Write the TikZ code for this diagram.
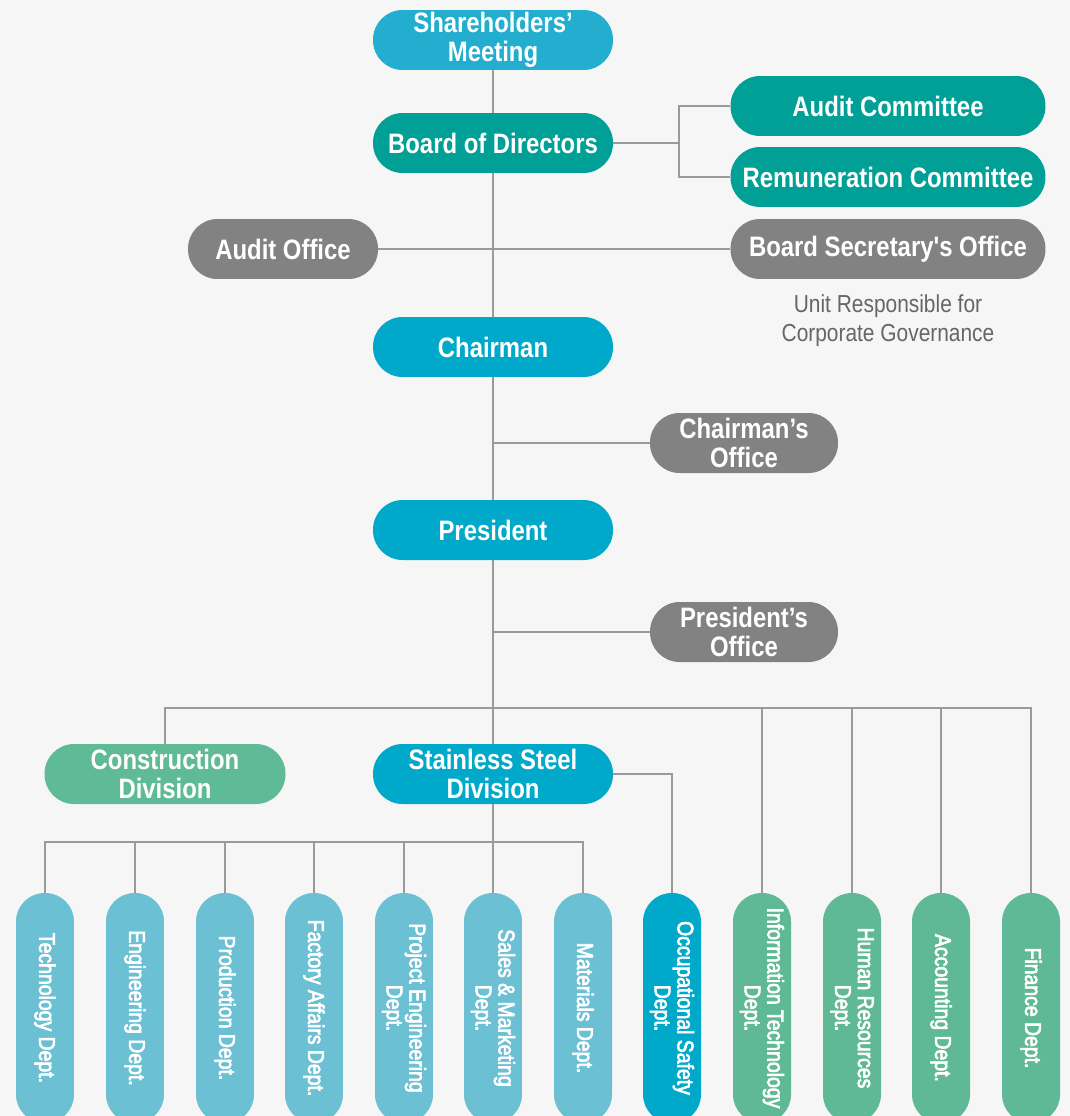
\documentclass[tikz,border=0pt]{standalone}
\usepackage{fontspec}
\setmainfont{Liberation Sans}[FakeStretch=0.85]
\newfontfamily\barfont{Liberation Sans}[FakeStretch=0.85, FakeBold=3]
\newfontfamily\straightfont{Liberation Sans}[FakeStretch=0.85, Ligatures=Common]
\definecolor{bgcol}{HTML}{F6F6F6}
\definecolor{linecol}{HTML}{9A9A9A}
\definecolor{topblue}{HTML}{23AECF}
\definecolor{midblue}{HTML}{00A9C9}
\definecolor{boardteal}{HTML}{00A096}
\definecolor{officegray}{HTML}{828282}
\definecolor{divgreen}{HTML}{5FBA97}
\definecolor{lblue}{HTML}{6CC0D4}
\definecolor{dgreen}{HTML}{60B996}
\definecolor{notegray}{HTML}{666666}
\tikzset{
  pill/.style={rounded corners=0.59cm, minimum height=1.2cm, inner sep=0pt,
    text=white, align=center, font=\bfseries\fontsize{16}{16.5}\selectfont},
  bar/.style={rounded corners=0.57cm, minimum width=4.6cm, minimum height=1.16cm,
    inner sep=0pt, text=white, align=center, font=\barfont\fontsize{13}{13}\selectfont},
  link/.style={draw=linecol, line width=1pt}
}
\begin{document}
\begin{tikzpicture}[x=0.02cm,y=-0.02cm]
\fill[bgcol] (0,0) rectangle (1070,1116);
\useasboundingbox (0,0) rectangle (1070,1116);
% top of the chart
\node[pill, fill=topblue, minimum width=4.8cm] (share) at (493,40) {Shareholders’\\Meeting};
\node[pill, fill=boardteal, minimum width=4.8cm] (board) at (493,143) {Board of Directors};
\node[pill, fill=boardteal, minimum width=6.3cm] (auditc) at (888,106) {Audit Committee};
\node[pill, fill=boardteal, minimum width=6.3cm] (remc) at (888,177) {Remuneration Committee};
\node[pill, fill=officegray, minimum width=3.8cm] (auditoff) at (283,249) {Audit Office};
\node[pill, fill=officegray, minimum width=6.3cm] (secoff) at (888,249) {Board Secretary{\straightfont\bfseries '}s Office};
\node[text=notegray, align=center, font=\fontsize{14}{16.5}\selectfont] (note) at (888,321) {Unit Responsible for\\Corporate Governance};
\node[pill, fill=midblue, minimum width=4.8cm] (chair) at (493,347) {Chairman};
\node[pill, fill=officegray, minimum width=3.76cm] (chairoff) at (744,443) {Chairman’s\\Office};
\node[pill, fill=midblue, minimum width=4.8cm] (pres) at (493,530) {President};
\node[pill, fill=officegray, minimum width=3.76cm] (presoff) at (744,632) {President’s\\Office};
\node[pill, fill=divgreen, minimum width=4.82cm] (constr) at (165,774) {Construction\\Division};
\node[pill, fill=midblue, minimum width=4.8cm] (ssd) at (493,774) {Stainless Steel\\Division};
% departments
\foreach \n/\x/\c/\t in {1/45/lblue/{Technology Dept.}, 2/135/lblue/{Engineering Dept.},
  3/225/lblue/{Production Dept.}, 4/314/lblue/{Factory Affairs Dept.},
  5/404/lblue/{Project Engineering\\Dept.}, 6/493/lblue/{Sales \& Marketing\\Dept.},
  7/583/lblue/{Materials Dept.}, 8/672/midblue/{Occupational Safety\\Dept.},
  9/762/dgreen/{Information Technology\\Dept.}, 10/852/dgreen/{Human Resources\\Dept.},
  11/941/dgreen/{Accounting Dept.}, 12/1031/dgreen/{Finance Dept.}}
  \node[bar, fill=\c, rotate=-90] (d\n) at (\x,1008) {\t};
% connectors
\coordinate (bus) at (493,708);
\coordinate (sbus) at (493,842);
\draw[link] (share.south) -- (board.north);
\draw[link] (board.south) -- (chair.north);
\draw[link] (chair.south) -- (pres.north);
\draw[link] (pres.south) -- (ssd.north);
\draw[link] (board.east) -- ++(66,0) |- (auditc.west);
\draw[link] (board.east) -- ++(66,0) |- (remc.west);
\draw[link] (auditoff.east) -- (secoff.west);
\draw[link] (chairoff.west) -- (chairoff.west -| chair.south);
\draw[link] (presoff.west) -- (presoff.west -| pres.south);
\draw[link] (constr.north) |- (bus) -| (d12.west);
\foreach \n in {9,10,11}
  \draw[link] (d\n.west) -- (d\n.west |- bus);
\draw[link] (ssd.east) -| (d8.west);
\draw[link] (ssd.south) -- (sbus);
\draw[link] (d1.west) |- (d7.west |- sbus) -- (d7.west);
\foreach \n in {2,...,6}
  \draw[link] (d\n.west) -- (d\n.west |- sbus);
\end{tikzpicture}
\end{document}
